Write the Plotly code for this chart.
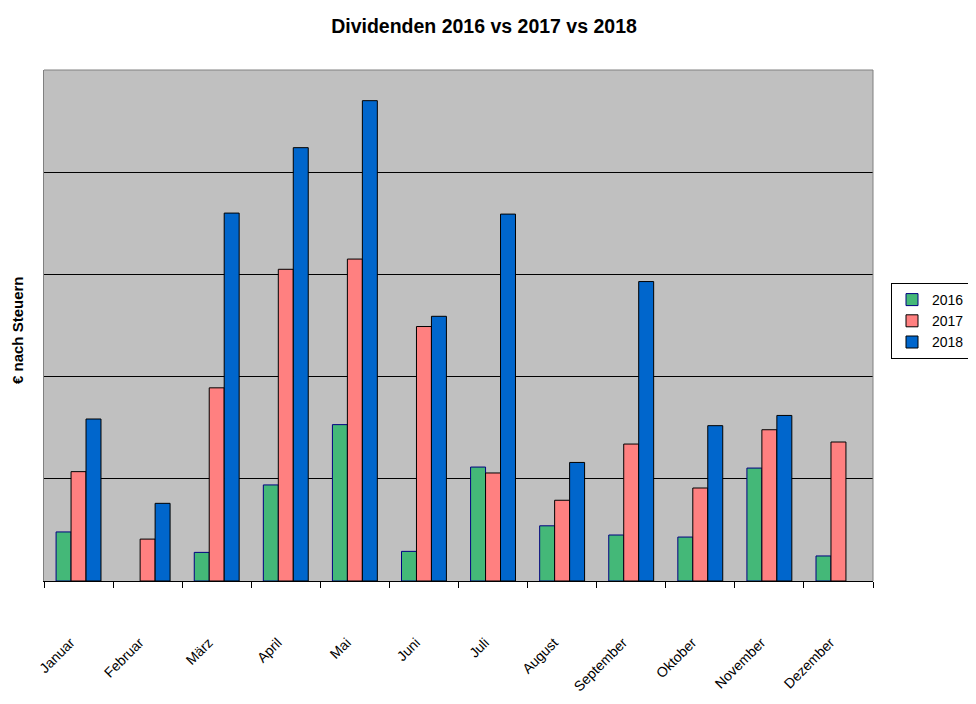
import plotly.graph_objects as go

months = ["Januar", "Februar", "März", "April", "Mai", "Juni", "Juli",
          "August", "September", "Oktober", "November", "Dezember"]
d2016 = [0.48, None, 0.28, 0.94, 1.53, 0.29, 1.115, 0.54, 0.45, 0.43, 1.105, 0.245]
d2017 = [1.07, 0.41, 1.89, 3.05, 3.15, 2.49, 1.057, 0.79, 1.34, 0.91, 1.48, 1.36]
d2018 = [1.585, 0.76, 3.60, 4.24, 4.70, 2.59, 3.59, 1.16, 2.93, 1.52, 1.62, None]
series = [("2016", d2016, "#44B878", "#000080"),
          ("2017", d2017, "#FF8080", "#000000"),
          ("2018", d2018, "#0066CC", "#000000")]

fig = go.Figure()
for name, vals, col, edge in series:
    fig.add_trace(go.Bar(x=months, y=vals, name=name, marker_color=col,
                         marker_line_color=edge, marker_line_width=1))

fig.update_layout(
    width=968, height=696,
    margin=dict(l=36, r=103, t=62, b=123, autoexpand=False),
    paper_bgcolor="white", plot_bgcolor="#C0C0C0",
    barmode="group", bargap=0.35, bargroupgap=0,
    font=dict(family="Liberation Sans, Arial", color="black"),
    title=dict(text="<b>Dividenden 2016 vs 2017 vs 2018</b>", x=(484 - 8) / 968,
               xref="container", xanchor="center",
               y=1 - 18 / 696, yanchor="middle", font=dict(size=19.5)),
    legend=dict(x=(962 - 36) / 829, xanchor="right", y=(581 - 321) / 511, yanchor="middle",
                bordercolor="black", borderwidth=1, font=dict(size=14),
                bgcolor="white", itemwidth=30, tracegroupgap=0),
    showlegend=True,
)
fig.update_xaxes(showline=True, linecolor="black", linewidth=1, ticks="outside",
                 tickson="boundaries", ticklen=6, tickcolor="black",
                 tickangle=-45, ticklabelstandoff=47, ticklabelshift=-8,
                 tickfont=dict(size=14), showgrid=False)
fig.update_yaxes(range=[0, 5], tickvals=[1, 2, 3, 4], showticklabels=False,
                 showgrid=True, gridcolor="black", gridwidth=1, zeroline=False,
                 showline=True, linecolor="#808080", linewidth=1)
fig.add_shape(type="line", xref="paper", yref="paper", x0=0, x1=1, y0=1, y1=1,
              line=dict(color="#808080", width=1))
fig.add_shape(type="line", xref="paper", yref="paper", x0=1, x1=1, y0=0, y1=1,
              line=dict(color="#808080", width=1))
fig.add_annotation(text="<b>€ nach Steuern</b>", xref="paper", yref="paper",
                   x=(9 - 36) / 829, y=(581 - 330) / 511, textangle=-90,
                   showarrow=False, font=dict(size=15), xanchor="center", yanchor="middle")

fig.write_html("out.html")
